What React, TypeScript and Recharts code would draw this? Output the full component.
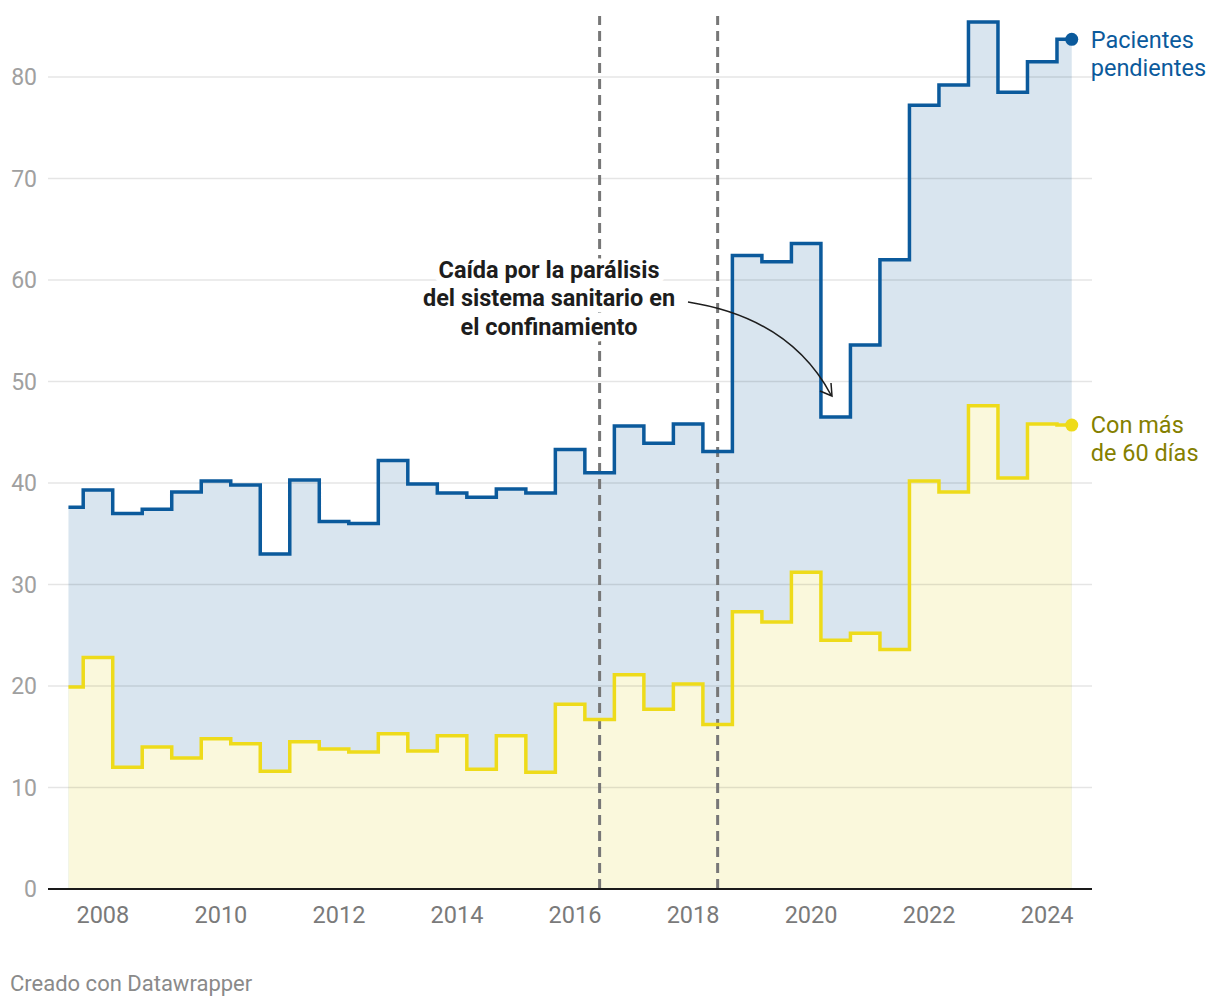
import React from 'react';
import { ComposedChart, Area, Line, XAxis, YAxis, ReferenceLine, ReferenceDot } from 'recharts';

const periods = [
  '2007-06', '2007-12', '2008-06', '2008-12', '2009-06', '2009-12', '2010-06', '2010-12',
  '2011-06', '2011-12', '2012-06', '2012-12', '2013-06', '2013-12', '2014-06', '2014-12',
  '2015-06', '2015-12', '2016-06', '2016-12', '2017-06', '2017-12', '2018-06', '2018-12',
  '2019-06', '2019-12', '2020-06', '2020-12', '2021-06', '2021-12', '2022-06', '2022-12',
  '2023-06', '2023-12', '2024-06',
];

const pendientes = [
  37.6, 39.3, 37.0, 37.4, 39.1, 40.2, 39.8, 33.0,
  40.3, 36.2, 36.0, 42.2, 39.9, 39.0, 38.6, 39.4,
  39.0, 43.3, 41.0, 45.6, 43.9, 45.8, 43.1, 62.4,
  61.8, 63.6, 46.5, 53.6, 62.0, 77.2, 79.2, 85.4,
  78.5, 81.5, 83.7,
];

const masDe60 = [
  19.9, 22.8, 12.0, 14.0, 12.9, 14.8, 14.3, 11.6,
  14.5, 13.8, 13.5, 15.3, 13.6, 15.1, 11.8, 15.1,
  11.5, 18.2, 16.7, 21.1, 17.7, 20.2, 16.2, 27.3,
  26.3, 31.2, 24.5, 25.2, 23.6, 40.2, 39.1, 47.6,
  40.5, 45.8, 45.7,
];

const yTicks = [0, 10, 20, 30, 40, 50, 60, 70, 80];
const gridTicks = [10, 20, 30, 40, 50, 60, 70, 80];
const xTicks = [2008, 2010, 2012, 2014, 2016, 2018, 2020, 2022, 2024];
const markerPeriods = ['2016-06', '2018-06'];

const BLUE = '#0b5a9c';
const BLUE_FILL = '#d9e5ef';
const YELLOW = '#eedb1a';
const YELLOW_FILL = '#faf8dc';
const OLIVE = '#857f00';

const toYear = (p: string) => {
  const [y, m] = p.split('-').map(Number);
  return y + (m - 1) / 12;
};

const data = periods.map((p, i) => ({
  t: toYear(p),
  pendientes: pendientes[i],
  masDe60: masDe60[i],
}));

const last = data[data.length - 1];

const EndLabel = (props: any) => {
  const { cx, cy, color, lines, textColor } = props;
  if (cx == null || cy == null) return null;
  return (
    <g>
      <circle cx={cx} cy={cy} r={6.5} fill={color} />
      {lines.map((l: string, i: number) => (
        <text
          key={i}
          x={cx + 19}
          y={cy + i * 28}
          dy="0.35em"
          fontSize={23.5}
          fill={textColor}
          fontFamily="Roboto"
        >
          {l}
        </text>
      ))}
    </g>
  );
};

export default function App() {
  return (
    <div
      style={{
        position: 'absolute',
        left: 0,
        top: 0,
        width: 1220,
        height: 1006,
        background: '#fff',
        fontFamily: 'Roboto, sans-serif',
      }}
    >
      <ComposedChart
        width={1220}
        height={940}
        data={data}
        margin={{ top: 16, right: 128, bottom: 0, left: 0 }}
      >
        <XAxis
          dataKey="t"
          type="number"
          domain={[2007.07, 2024.76]}
          ticks={xTicks}
          allowDataOverflow
          axisLine={false}
          tickLine={false}
          tickSize={0}
          tickMargin={17}
          height={51}
          tick={{ fontSize: 23.5, fill: '#7a7a7a', fontFamily: 'Roboto' }}
        />
        <YAxis
          type="number"
          domain={[0, 86]}
          ticks={yTicks}
          allowDataOverflow
          axisLine={false}
          tickLine={false}
          tickSize={0}
          tickMargin={11}
          width={48}
          tick={{ fontSize: 23, fill: '#a0a0a0', fontFamily: 'Roboto' }}
        />
        <Area
          type="step"
          dataKey="pendientes"
          stroke="none"
          fill={BLUE_FILL}
          fillOpacity={1}
          isAnimationActive={false}
        />
        <Area
          type="step"
          dataKey="masDe60"
          stroke="none"
          fill={YELLOW_FILL}
          fillOpacity={1}
          isAnimationActive={false}
        />
        {gridTicks.map((v) => (
          <ReferenceLine key={v} y={v} stroke="#000" strokeOpacity={0.1} strokeWidth={1.5} />
        ))}
        {markerPeriods.map((p) => (
          <ReferenceLine
            key={p}
            x={toYear(p)}
            stroke="#777"
            strokeWidth={3}
            strokeDasharray="10 6"
          />
        ))}
        <ReferenceLine y={0} stroke="#1a1a1a" strokeWidth={2} />
        <Line
          type="step"
          dataKey="pendientes"
          stroke={BLUE}
          strokeWidth={3.5}
          dot={false}
          activeDot={false}
          isAnimationActive={false}
        />
        <Line
          type="step"
          dataKey="masDe60"
          stroke={YELLOW}
          strokeWidth={3.5}
          dot={false}
          activeDot={false}
          isAnimationActive={false}
        />
        <ReferenceDot
          x={last.t}
          y={last.pendientes}
          r={6}
          ifOverflow="visible"
          shape={(p: any) => (
            <EndLabel {...p} color={BLUE} textColor={BLUE} lines={['Pacientes', 'pendientes']} />
          )}
        />
        <ReferenceDot
          x={last.t}
          y={last.masDe60}
          r={6}
          ifOverflow="visible"
          shape={(p: any) => (
            <EndLabel {...p} color={YELLOW} textColor={OLIVE} lines={['Con más', 'de 60 días']} />
          )}
        />
      </ComposedChart>
      <svg
        width={1220}
        height={1006}
        style={{ position: 'absolute', left: 0, top: 0, pointerEvents: 'none' }}
      >
        <g
          fontFamily="Roboto"
          fontWeight={700}
          fontSize={23.5}
          fill="#1d1d1d"
          textAnchor="middle"
          stroke="#ffffff"
          strokeWidth={13}
          strokeLinejoin="round"
          style={{ paintOrder: 'stroke' }}
        >
          <text x={549} y={270} dy="0.35em">Caída por la parálisis</text>
          <text x={549} y={298} dy="0.35em">del sistema sanitario en</text>
          <text x={549} y={327} dy="0.35em">el confinamiento</text>
        </g>
        <path d="M 688 302 Q 790 318 831 395" fill="none" stroke="#1d1d1d" strokeWidth={1.5} />
        <path d="M 820 391 L 832 396 L 831 383" fill="none" stroke="#1d1d1d" strokeWidth={1.5} />
        <text x={10} y={983} dy="0.35em" fontFamily="Roboto" fontSize={22} fill="#8a8a8a">
          Creado con Datawrapper
        </text>
      </svg>
    </div>
  );
}
